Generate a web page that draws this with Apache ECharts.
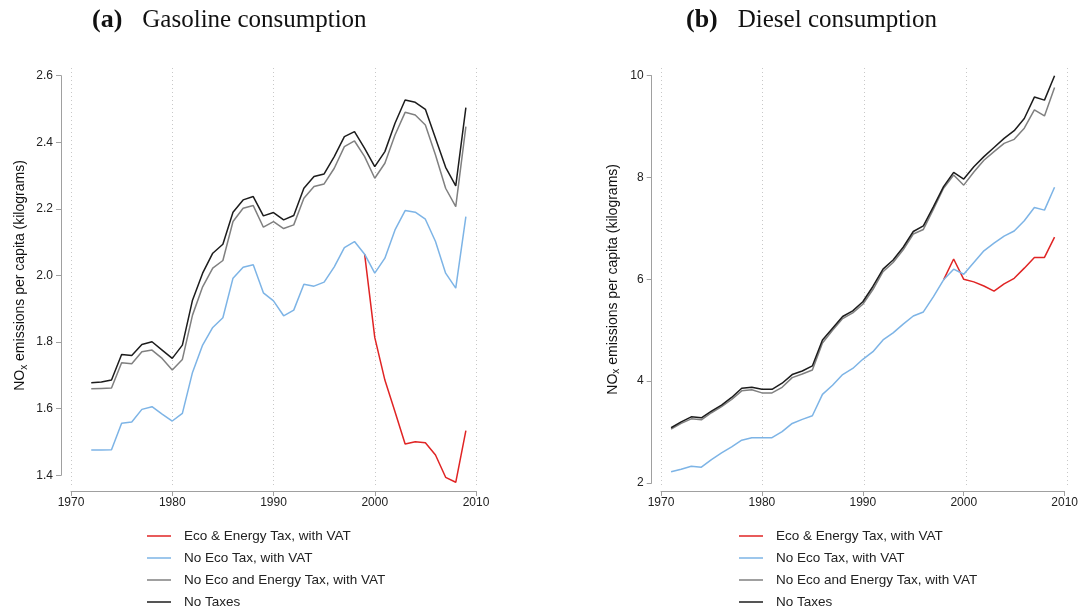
<!DOCTYPE html>
<html>
<head>
<meta charset="utf-8">
<script src="https://cdn.jsdelivr.net/npm/echarts@6/dist/echarts.min.js"></script>
<style>
html,body{margin:0;padding:0;background:#fff;}
#chart{width:1081px;height:612px;}
</style>
</head>
<body>
<div id="chart"></div>
<script>
// ---------- DATA ----------
const seriesNames = ['Eco & Energy Tax, with VAT', 'No Eco Tax, with VAT', 'No Eco and Energy Tax, with VAT', 'No Taxes'];
const xTicks = [1970, 1980, 1990, 2000, 2010];

// (a) Gasoline consumption, 1972-2009
const yearsA = [1972,1973,1974,1975,1976,1977,1978,1979,1980,1981,1982,1983,1984,1985,1986,1987,1988,1989,1990,1991,1992,1993,1994,1995,1996,1997,1998,1999,2000,2001,2002,2003,2004,2005,2006,2007,2008,2009];
const gasEcoEnergy = [null,null,null,null,null,null,null,null,null,null,null,null,null,null,null,null,null,null,null,null,null,null,null,null,null,null,null,
  2.064,1.814,1.686,1.591,1.494,1.501,1.498,1.461,1.394,1.379,1.534];
const gasNoEco = [1.476,1.476,1.477,1.556,1.560,1.598,1.606,1.584,1.563,1.586,
  1.709,1.791,1.844,1.873,1.992,2.025,2.032,1.948,1.924,1.879,
  1.896,1.974,1.968,1.980,2.026,2.084,2.102,2.064,2.007,2.052,
  2.137,2.195,2.190,2.169,2.102,2.007,1.962,2.177];
const gasNoEcoEnergy = [1.660,1.661,1.662,1.738,1.735,1.771,1.776,1.751,1.716,1.748,
  1.881,1.966,2.022,2.045,2.162,2.202,2.210,2.145,2.162,2.141,
  2.152,2.232,2.267,2.275,2.322,2.387,2.404,2.357,2.292,2.337,
  2.422,2.490,2.482,2.452,2.362,2.262,2.207,2.447];
const gasNoTaxes = [1.678,1.680,1.686,1.763,1.760,1.793,1.801,1.776,1.751,1.791,
  1.926,2.007,2.067,2.094,2.190,2.227,2.237,2.179,2.189,2.167,
  2.180,2.262,2.297,2.305,2.357,2.417,2.432,2.382,2.327,2.372,
  2.457,2.527,2.520,2.499,2.412,2.325,2.269,2.504];

// (b) Diesel consumption, 1971-2009
const yearsB = [1971,1972,1973,1974,1975,1976,1977,1978,1979,1980,1981,1982,1983,1984,1985,1986,1987,1988,1989,1990,1991,1992,1993,1994,1995,1996,1997,1998,1999,2000,2001,2002,2003,2004,2005,2006,2007,2008,2009];
const dieEcoEnergy = [null,null,null,null,null,null,null,null,null,null,null,null,null,null,null,null,null,null,null,null,null,null,null,null,null,null,null,
  5.99,6.40,6.00,5.95,5.87,5.77,5.91,6.02,6.22,6.43,6.43,6.83];
const dieNoEco = [2.22,2.27,2.33,2.31,2.46,2.59,2.71,2.84,2.89,2.89,
  2.89,3.01,3.17,3.25,3.32,3.74,3.92,4.13,4.25,4.43,
  4.58,4.81,4.95,5.12,5.28,5.36,5.66,5.99,6.20,6.10,
  6.33,6.56,6.71,6.85,6.95,7.15,7.41,7.36,7.81];
const dieNoEcoEnergy = [3.06,3.17,3.26,3.24,3.38,3.50,3.64,3.81,3.83,3.77,
  3.77,3.88,4.07,4.14,4.22,4.75,5.00,5.23,5.34,5.51,
  5.80,6.15,6.33,6.58,6.89,6.98,7.38,7.79,8.05,7.85,
  8.11,8.34,8.51,8.67,8.75,8.97,9.33,9.21,9.77];
const dieNoTaxes = [3.085,3.20,3.30,3.28,3.41,3.53,3.68,3.86,3.88,3.84,
  3.84,3.96,4.13,4.20,4.30,4.81,5.04,5.27,5.38,5.56,
  5.86,6.20,6.38,6.63,6.94,7.05,7.43,7.82,8.10,7.97,
  8.21,8.41,8.59,8.77,8.92,9.16,9.58,9.52,10.0];

// ---------- STYLE ----------
const colors = ['#e02424', '#7db4e6', '#808080', '#1c1c1c'];
const sans = '"Liberation Sans", Arial, Helvetica, sans-serif';
const serif = '"Liberation Serif", "Times New Roman", serif';
const axisColor = '#a0a0a0';
const labelColor = '#222';

function pairs(years, vals) { return years.map((y, i) => [y, vals[i]]); }

function mainX(grid, offset) {
  return {
    gridIndex: grid, type: 'value', min: 1970, max: 2010, interval: 10, offset: offset,
    axisLine: { show: true, lineStyle: { color: axisColor, width: 1 } },
    axisTick: { show: true, length: 5, lineStyle: { color: axisColor } },
    axisLabel: { margin: 6, color: labelColor, fontFamily: sans, fontSize: 12, formatter: v => String(v) },
    splitLine: { show: false }
  };
}
function gridX(grid) {
  return {
    gridIndex: grid, type: 'value', min: 1970, max: 2010, interval: 10,
    axisLine: { show: false }, axisTick: { show: false }, axisLabel: { show: false },
    splitLine: { show: true, lineStyle: { color: '#c8c8c8', type: [1, 3], width: 1 } }
  };
}
const yName = '{n|NO}{s|x}{n| emissions per capita (kilograms)}';
const yNameStyle = {
  color: '#111',
  rich: {
    n: { fontFamily: sans, fontSize: 14, color: '#111' },
    s: { fontFamily: sans, fontSize: 10, color: '#111', padding: [8, 0, 0, 0] }
  }
};
function mainY(grid, min, max, interval, offset, gap, fmt) {
  return {
    gridIndex: grid, type: 'value', min: min, max: max, interval: interval, offset: offset,
    name: yName, nameLocation: 'middle', nameGap: gap, nameTextStyle: yNameStyle,
    axisLine: { show: true, lineStyle: { color: axisColor, width: 1 } },
    axisTick: { show: true, length: 5, lineStyle: { color: axisColor } },
    axisLabel: { margin: 8, color: labelColor, fontFamily: sans, fontSize: 12, formatter: fmt },
    splitLine: { show: false }
  };
}
function hiddenY(grid) {
  return { gridIndex: grid, type: 'value', min: 0, max: 1, show: false, splitLine: { show: false } };
}
function line(name, idx, data, color) {
  return {
    name: name, type: 'line', xAxisIndex: idx, yAxisIndex: idx, data: data,
    symbol: 'none', showSymbol: false, clip: false, connectNulls: false,
    lineStyle: { color: color, width: 1.5 }, itemStyle: { color: color },
    emphasis: { disabled: true }, animation: false
  };
}
function legend(left) {
  return {
    left: left, top: 529, orient: 'vertical', padding: 0, icon: 'rect', itemWidth: 24, itemHeight: 1.5, itemGap: 8,
    selectedMode: false, data: seriesNames,
    textStyle: { fontFamily: sans, fontSize: 13.5, color: '#222', lineHeight: 14, padding: [0, 0, 0, 8] }
  };
}
function title(left, tag, text) {
  return {
    left: left, top: 7, padding: 0,
    text: '{b|' + tag + '}{r|' + text + '}',
    textStyle: {
      fontWeight: 'normal',
      rich: {
        b: { fontFamily: serif, fontWeight: 'bold', fontSize: 26, color: '#111' },
        r: { fontFamily: serif, fontWeight: 'normal', fontSize: 25, color: '#111', padding: [0, 0, 0, 20] }
      }
    }
  };
}

const option = {
  backgroundColor: '#fff',
  animation: false,
  title: [ title(92, '(a)', 'Gasoline consumption'), title(686, '(b)', 'Diesel consumption') ],
  legend: [ legend(147), legend(739) ],
  grid: [
    { left: 71, top: 75.7, width: 405, height: 399.6 },
    { left: 661, top: 75.7, width: 406.5, height: 407.3 },
    { left: 71, top: 68, width: 405, height: 418 },
    { left: 661, top: 68, width: 406.5, height: 418 }
  ],
  xAxis: [ mainX(0, 15.7), mainX(1, 8), gridX(2), gridX(3) ],
  yAxis: [
    mainY(0, 1.4, 2.6, 0.2, 10, 32, v => v.toFixed(1)),
    mainY(1, 2, 10, 2, 9.3, 30, v => String(v)),
    hiddenY(2), hiddenY(3)
  ],
  series: [
    line(seriesNames[0], 0, pairs(yearsA, gasEcoEnergy), colors[0]),
    line(seriesNames[1], 0, pairs(yearsA, gasNoEco), colors[1]),
    line(seriesNames[2], 0, pairs(yearsA, gasNoEcoEnergy), colors[2]),
    line(seriesNames[3], 0, pairs(yearsA, gasNoTaxes), colors[3]),
    line(seriesNames[0], 1, pairs(yearsB, dieEcoEnergy), colors[0]),
    line(seriesNames[1], 1, pairs(yearsB, dieNoEco), colors[1]),
    line(seriesNames[2], 1, pairs(yearsB, dieNoEcoEnergy), colors[2]),
    line(seriesNames[3], 1, pairs(yearsB, dieNoTaxes), colors[3])
  ]
};

const chart = echarts.init(document.getElementById('chart'), null, { renderer: 'canvas' });
chart.setOption(option);
</script>
</body>
</html>
